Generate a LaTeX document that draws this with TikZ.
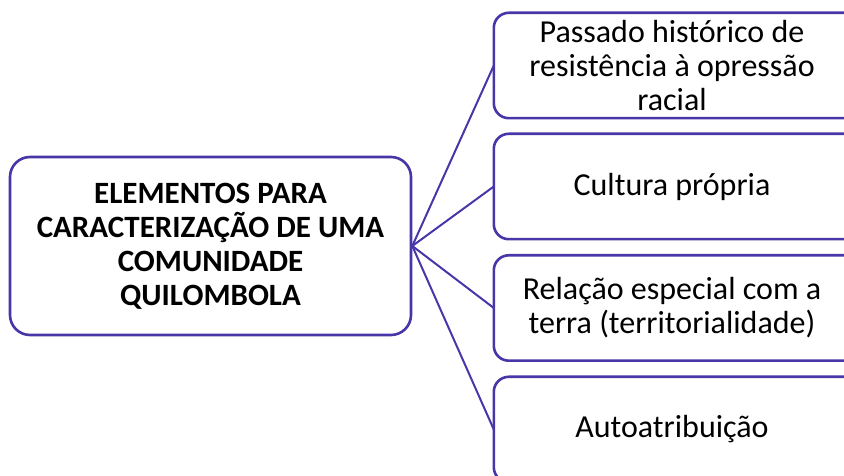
\documentclass[tikz,border=0pt]{standalone}
\usepackage{fontspec}
\setmainfont{Carlito}
\definecolor{edge}{RGB}{70,54,168}
\begin{document}
\begin{tikzpicture}[x=1pt,y=1pt,
  lbox/.style={draw=edge, line width=2.6pt, rounded corners=20pt, fill=white, align=center,
    minimum width=401pt, minimum height=178pt, inner sep=0pt,
    font=\fontsize{31}{34}\selectfont\bfseries},
  rbox/.style={align=center, minimum width=356pt, minimum height=105pt, inner sep=0pt,
    font=\fontsize{32}{34}\selectfont},
  rframe/.style={draw=edge, line width=2.6pt, rounded corners=15pt},
  conn/.style={draw=edge, line width=2pt}]
\useasboundingbox (0,0) rectangle (844,476);
\clip (0,0) rectangle (844,476);
\node[lbox] (main) at (210.5,230) {ELEMENTOS PARA\\CARACTERIZAÇÃO DE UMA\\COMUNIDADE\\QUILOMBOLA};
\node[rbox] (b1) at (672,410.5) {Passado histórico de\\resistência à opressão\\racial};
\node[rbox] (b2) at (672,289.5) {Cultura própria};
\node[rbox] (b3) at (672,168) {Relação especial com a\\terra (territorialidade)};
\node[rbox] (b4) at (672,46.5) {Autoatribuição};
\foreach \b in {b1,b2,b3,b4}{
  \draw[rframe] (\b.north west) rectangle ([xshift=40pt]\b.south east);
}
\draw[conn] (main.east) -- (b1.west);
\draw[conn] (main.east) -- (b2.west);
\draw[conn] (main.east) -- (b3.west);
\draw[conn] (main.east) -- (b4.west);
\end{tikzpicture}
\end{document}
